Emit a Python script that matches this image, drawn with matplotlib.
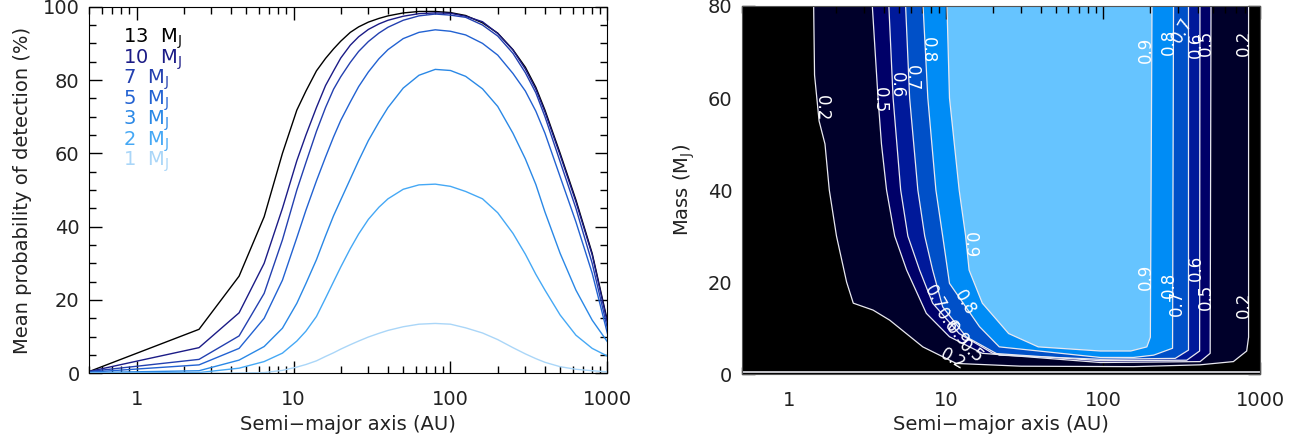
import numpy as np
import matplotlib
matplotlib.use('Agg')
from matplotlib import pyplot as plt
from matplotlib.ticker import LogLocator, NullFormatter, MultipleLocator

plt.rcParams['font.family'] = 'DejaVu Sans'

# ---- left panel: mean detection probability vs semi-major axis
sma = [0.5, 2.5, 4.5, 6.5, 8.5, 10.5, 12, 14, 16, 18, 20, 23, 26, 30, 35, 40, 50, 63, 80, 100,
       125, 160, 200, 250, 300, 350, 400, 500, 630, 800, 1000]
p13 = [0.5, 12.0, 26.5, 42.7, 60.0, 71.8, 77.0, 82.5, 85.9, 88.5, 90.6, 93.0, 94.5, 95.8, 96.8, 97.5,
       98.3, 98.7, 98.7, 98.4, 97.6, 95.6, 92.8, 88.3, 83.5, 78.0, 71.8, 60.0, 47.3, 32.7, 14.3]
p10 = [0.5, 7.0, 16.5, 30.0, 45.0, 58.0, 65.0, 72.5, 78.5, 82.5, 86.0, 89.5, 91.8, 93.8, 95.3, 96.3,
       97.4, 98.1, 98.3, 98.2, 97.4, 95.9, 92.7, 88.2, 83.0, 77.5, 71.3, 59.5, 46.8, 32.3, 13.8]
p7 = [0.5, 3.8, 10.2, 21.8, 36.4, 50.0, 57.5, 66.0, 72.5, 77.5, 80.9, 84.8, 87.8, 90.5, 92.8, 94.4,
      96.3, 97.5, 98.0, 97.7, 97.1, 95.0, 92.0, 87.3, 82.0, 76.5, 70.0, 57.7, 45.0, 30.0, 12.3]
p5 = [0.3, 2.3, 6.8, 15.0, 25.4, 37.0, 44.5, 52.5, 59.0, 64.5, 69.0, 74.0, 78.2, 82.2, 85.8, 88.3,
      91.3, 93.0, 93.7, 93.3, 92.3, 90.0, 86.8, 81.8, 77.0, 71.5, 65.5, 53.6, 41.3, 27.3, 10.9]
p3 = [0.2, 0.7, 3.6, 7.3, 12.3, 19.1, 24.5, 31.0, 37.5, 43.0, 47.3, 53.0, 58.0, 63.5, 68.5, 72.5,
      77.8, 81.3, 82.9, 82.6, 81.0, 77.6, 72.8, 65.5, 58.5, 51.5, 44.0, 32.7, 22.7, 14.5, 8.6]
p2 = [0.1, 0.2, 1.4, 3.2, 5.5, 8.8, 11.5, 15.5, 20.5, 25.0, 29.0, 34.0, 38.0, 42.0, 45.3, 47.6,
      50.2, 51.4, 51.6, 51.0, 49.6, 47.6, 43.8, 38.2, 32.5, 27.0, 22.7, 15.9, 10.4, 6.8, 4.7]
p1 = [0.0, 0.0, 0.1, 0.2, 0.8, 1.7, 2.4, 3.4, 4.6, 5.6, 6.6, 7.8, 8.8, 9.9, 10.9, 11.7,
      12.7, 13.4, 13.6, 13.4, 12.4, 11.0, 9.2, 7.0, 5.3, 4.0, 3.0, 1.8, 1.1, 0.7, 0.4]
curves = [p13, p10, p7, p5, p3, p2, p1]
mass_labels = ['13  M$_\\mathregular{J}$', '10  M$_\\mathregular{J}$', '7  M$_\\mathregular{J}$',
               '5  M$_\\mathregular{J}$', '3  M$_\\mathregular{J}$', '2  M$_\\mathregular{J}$',
               '1  M$_\\mathregular{J}$']
line_colors = ['#000000', '#1b1b86', '#2340b0', '#2262d2', '#2a88e6', '#45a8f5', '#aad6f8']

# ---- right panel: contour boundaries (a in AU, mass in MJ), outer level first
levels = [0.2, 0.5, 0.6, 0.7, 0.8, 0.9]
a_02 = [1.43, 1.45, 1.55, 1.69, 1.80, 2.0, 2.32, 2.56, 3.42, 4.37, 7.1, 11.6, 30, 156, 415, 676, 822, 845, 845]
m_02 = [81, 65, 55, 50, 40, 30, 20, 15.4, 13.9, 11.7, 5.9, 2.3, 1.7, 1.6, 2.0, 2.7, 5.0, 8, 81]
a_05 = [3.37, 3.68, 3.87, 4.17, 4.7, 5.6, 7.47, 10.5, 17.0, 96, 415, 481, 487]
m_05 = [81, 60, 50, 40, 30, 22.6, 13.2, 8.1, 4.5, 2.5, 2.7, 4.5, 81]
a_06 = [4.3, 4.59, 5.13, 5.7, 6.77, 8.2, 12.1, 19.8, 96, 341, 412, 414]
m_06 = [81, 60, 40, 30, 22.6, 15.4, 8.8, 4.5, 2.9, 3.0, 5.0, 81]
a_07 = [5.5, 5.85, 6.6, 7.3, 8.2, 9.5, 13.4, 21.8, 96, 288, 350, 350]
m_07 = [81, 60, 40, 30, 22.6, 14.6, 8.1, 4.1, 3.2, 3.4, 5.2, 81]
a_08 = [7.1, 7.64, 8.6, 9.5, 10.5, 16.3, 21.8, 96, 156, 210, 277, 281]
m_08 = [81, 60, 40, 30, 19.7, 10.3, 5.9, 3.6, 3.6, 4.1, 5.6, 81]
a_09 = [10.1, 10.5, 12.1, 13.3, 14.0, 17.0, 25.0, 38.6, 96, 150, 190, 200, 205]
m_09 = [81, 60, 40, 30, 22.6, 15.4, 8.8, 5.9, 5.0, 5.0, 5.9, 8.0, 81]
bounds_a = [a_02, a_05, a_06, a_07, a_08, a_09]
bounds_m = [m_02, m_05, m_06, m_07, m_08, m_09]
fill_colors = ['#00002a', '#000068', '#00199a', '#0050c8', '#008cf5', '#66c4ff']
bottom_line_mass = 0.35

# contour labels: text, a, mass, rotation
clabels = [('0.2', 1.61, 57.8, -90), ('0.5', 3.78, 59.6, -90), ('0.6', 4.83, 62.8, -90),
           ('0.7', 6.01, 64.3, -90), ('0.8', 7.66, 70.4, -90), ('0.9', 14.1, 28.0, -90),
           ('0.7', 8.4, 16.5, -60), ('0.6', 10.0, 11.5, -55), ('0.9', 11.8, 8.5, -50),
           ('0.8', 13.2, 15.5, -60), ('0.5', 14.5, 4.8, -40), ('0.2', 11.0, 3.3, -30),
           ('0.9', 187, 70.4, 90), ('0.8', 262, 72.2, 90), ('0.7', 318, 74.8, 60),
           ('0.6', 389, 71.5, 90), ('0.5', 451, 72.0, 90), ('0.2', 785, 72.0, 90),
           ('0.9', 187, 21.1, 90), ('0.8', 262, 19.3, 90), ('0.7', 295, 15.4, 90),
           ('0.6', 389, 23.0, 90), ('0.5', 451, 16.7, 90), ('0.2', 785, 15.0, 90)]


def style_log_x(ax, col='k'):
    ax.set_xscale('log')
    ax.set_xlim(0.5, 1000)
    ax.set_xticks([1, 10, 100, 1000])
    ax.set_xticklabels(['1', '10', '100', '1000'])
    ax.xaxis.set_minor_locator(LogLocator(base=10, subs=np.arange(2, 10)))
    ax.xaxis.set_minor_formatter(NullFormatter())
    ax.tick_params(which='both', direction='in', top=True, right=True, labelsize=14, colors=col,
                   labelcolor='#222222')
    ax.tick_params(which='major', length=9, width=1)
    ax.tick_params(which='minor', length=5, width=1)
    ax.tick_params(axis='x', pad=12)
    ax.tick_params(axis='y', pad=7)
    ax.set_xlabel('Semi\u2212major axis (AU)', fontsize=14, color='#222222', labelpad=4)


fig = plt.figure(figsize=(13.04, 4.41), dpi=100)

ax = fig.add_axes([0.0685, 0.1535, 0.3973, 0.8313])
for y, c in zip(curves, line_colors):
    ax.plot(sma, y, color=c, lw=1.0)
ax.set_ylim(0, 100)
ax.yaxis.set_major_locator(MultipleLocator(20))
ax.yaxis.set_minor_locator(MultipleLocator(5))
style_log_x(ax)
ax.set_ylabel('Mean probability of detection (%)', fontsize=14, color='#222222', labelpad=8)
for i, (lab, c) in enumerate(zip(mass_labels, line_colors)):
    ax.text(0.065, 0.912 - 0.056 * i, lab, color=c, fontsize=14, transform=ax.transAxes, va='center')

ax2 = fig.add_axes([0.569, 0.1519, 0.3973, 0.8345])
ax2.set_facecolor('black')
for a_b, m_b, fc in zip(bounds_a, bounds_m, fill_colors):
    ax2.fill(a_b, m_b, color=fc, lw=0)
for a_b, m_b in zip(bounds_a, bounds_m):
    ax2.plot(a_b, m_b, color='#e8e8f0', lw=0.9)
ax2.axhline(bottom_line_mass, color='#e8e8f0', lw=1.2)
for txt, a, m, rot in clabels:
    ax2.text(a, m, txt, color='white', fontsize=12, rotation=rot, ha='center', va='center',
             rotation_mode='anchor')
ax2.set_ylim(0, 80)
ax2.yaxis.set_major_locator(MultipleLocator(20))
ax2.yaxis.set_minor_locator(MultipleLocator(5))
style_log_x(ax2)
for s in ax2.spines.values():
    s.set_color('#555555')
ax2.set_ylabel('Mass (M$_\\mathregular{J}$)', fontsize=14, color='#222222', labelpad=8)

fig.savefig('out.png', dpi=100)
